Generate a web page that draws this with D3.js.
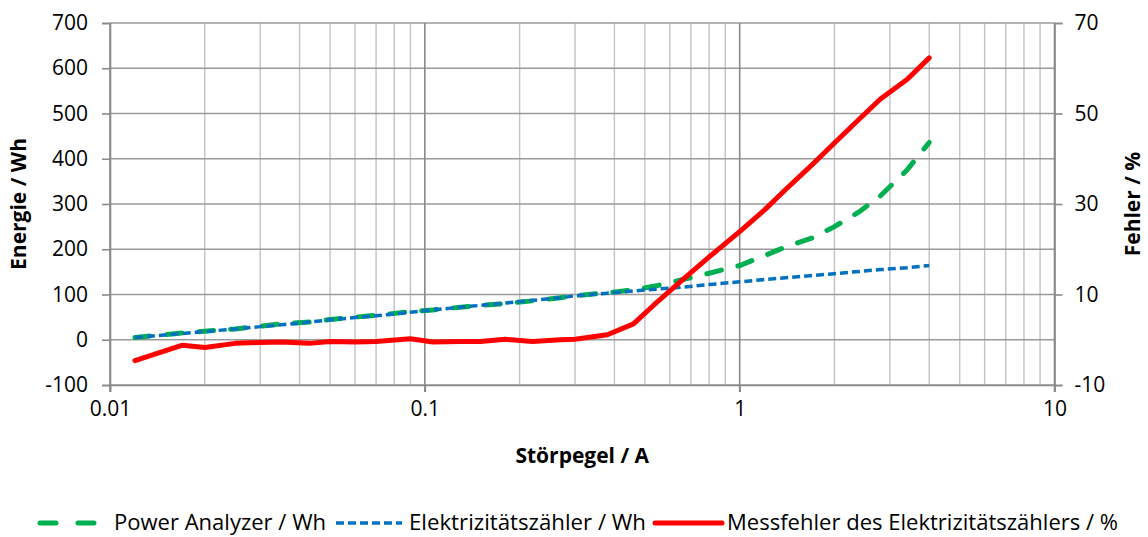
<!DOCTYPE html>
<html><head><meta charset="utf-8">
<script src="https://cdn.jsdelivr.net/npm/d3@7"></script>
<style>
html,body{margin:0;padding:0;background:#fff;}
text{font-family:"Open Sans",sans-serif;fill:#000;}
</style></head>
<body>
<svg id="c" width="1148" height="537"></svg>
<script>
const xValues = [0.012,0.017,0.02,0.025,0.03,0.035,0.043,0.05,0.06,0.07,0.09,0.106,0.13,0.15,0.18,0.22,0.27,0.3,0.38,0.46,0.55,0.65,0.8,1.0,1.2,1.4,1.7,2.0,2.4,2.8,3.4,4.0];
const powerAnalyzer = [5,15,19,24,30,35,39,45,50,54,62,66,72,76,80,86,93,97,104,110,120,132,147,164,186,205,225,250,283,318,375,436];
const elektrizitaetszaehler = [5,14,18,24,29,33,39,44,49,53,61,66,72,76,81,87,93,97,103,108,112,116,122,128,133,137,142,146,151,155,159,164];
const messfehler = [-4.6,-1.2,-1.7,-0.8,-0.6,-0.5,-0.8,-0.4,-0.5,-0.4,0.2,-0.5,-0.4,-0.4,0.1,-0.4,0,0.1,1.1,3.5,8.5,12.9,18.3,23.9,28.7,33.2,38.7,43.5,48.8,53.2,57.5,62.3];
const xTicks = [0.01,0.1,1,10];
const xTickLabels = ["0.01","0.1","1","10"];
const yLeftTicks = [-100,0,100,200,300,400,500,600,700];
const yRightTicks = [-10,10,30,50,70];
const seriesNames = ["Power Analyzer / Wh","Elektrizitätszähler / Wh","Messfehler des Elektrizitätszählers / %"];
const xTitle = "Störpegel / A", yLeftTitle = "Energie / Wh", yRightTitle = "Fehler / %";

const svg = d3.select("#c");
const L=110, R=1054.5, T=23, B=385;
const FS = "21px";
const x = d3.scaleLog().domain([0.01,10]).range([L,R]);
const yL = d3.scaleLinear().domain([-100,700]).range([B,T]);
const yR = d3.scaleLinear().domain([-10,70]).range([B,T]);

const minor=[];
[0.01,0.1,1].forEach(d=>{for(let k=2;k<=9;k++)minor.push(d*k);});
svg.append("g").selectAll("line").data(minor).join("line")
  .attr("x1",d=>x(d)).attr("x2",d=>x(d)).attr("y1",T).attr("y2",B)
  .attr("stroke","#c3c3c3").attr("stroke-width",1.4);
svg.append("g").selectAll("line").data(yLeftTicks).join("line")
  .attr("x1",L).attr("x2",R).attr("y1",d=>yL(d)).attr("y2",d=>yL(d))
  .attr("stroke","#9a9a9a").attr("stroke-width",1.4);
svg.append("g").selectAll("line").data(xTicks).join("line")
  .attr("x1",d=>x(d)).attr("x2",d=>x(d)).attr("y1",T).attr("y2",B+7)
  .attr("stroke","#8a8a8a").attr("stroke-width",1.6);

const fmt = d => String(d);
const axL = d3.axisLeft(yL).tickValues(yLeftTicks).tickFormat(fmt).tickSize(8).tickPadding(14);
const gL = svg.append("g").attr("transform",`translate(${L},0)`).call(axL);
const axR = d3.axisRight(yR).tickValues(yRightTicks).tickFormat(fmt).tickSize(8).tickPadding(12);
const gR = svg.append("g").attr("transform",`translate(${R},0)`).call(axR);
const axB = d3.axisBottom(x).tickValues(xTicks).tickFormat((d,i)=>xTickLabels[i]).tickSize(7).tickPadding(9);
const gB = svg.append("g").attr("transform",`translate(0,${B})`).call(axB);
[gL,gR,gB].forEach(g=>{
  g.selectAll("path").attr("stroke","#8a8a8a").attr("stroke-width",1.6);
  g.selectAll("line").attr("stroke","#8a8a8a").attr("stroke-width",1.6);
  g.selectAll("text").style("font-size",FS).style("font-family","'Open Sans',sans-serif").attr("fill","#000");
});

const lineL = d3.line().x((d,i)=>x(xValues[i])).y(d=>yL(d));
const lineR = d3.line().x((d,i)=>x(xValues[i])).y(d=>yR(d));
svg.append("path").datum(powerAnalyzer).attr("d",lineL).attr("fill","none")
  .attr("stroke","#00B050").attr("stroke-width",5).attr("stroke-linecap","round")
  .attr("stroke-dasharray","15,17");
svg.append("path").datum(elektrizitaetszaehler).attr("d",lineL).attr("fill","none")
  .attr("stroke","#0070C0").attr("stroke-width",3.5).attr("stroke-linecap","butt")
  .attr("stroke-dasharray","8,4");
svg.append("path").datum(messfehler).attr("d",lineR).attr("fill","none")
  .attr("stroke","#FF0000").attr("stroke-width",5).attr("stroke-linejoin","round").attr("stroke-linecap","round");

svg.append("text").attr("x",(L+R)/2).attr("y",463).attr("text-anchor","middle")
  .style("font-size",FS).style("font-weight","bold").text(xTitle);
svg.append("text").attr("transform","translate(26,204) rotate(-90)").attr("text-anchor","middle")
  .style("font-size",FS).style("font-weight","bold").text(yLeftTitle);
svg.append("text").attr("transform","translate(1140,204) rotate(-90)").attr("text-anchor","middle")
  .style("font-size",FS).style("font-weight","bold").text(yRightTitle);

const leg = [
  {x1:40,x2:102,tx:114,tw:212,color:"#00B050",w:5,dash:"16,22",cap:"round"},
  {x1:336,x2:402,tx:409,tw:237,color:"#0070C0",w:3.5,dash:"8,4",cap:"butt"},
  {x1:655,x2:722,tx:727,tw:391,color:"#FF0000",w:5,dash:null,cap:"round"}
];
const lg = svg.append("g");
leg.forEach((d,i)=>{
  lg.append("line").attr("x1",d.x1).attr("x2",d.x2).attr("y1",523).attr("y2",523)
    .attr("stroke",d.color).attr("stroke-width",d.w).attr("stroke-linecap",d.cap)
    .attr("stroke-dasharray",d.dash);
  lg.append("text").attr("x",d.tx).attr("y",523).attr("dy","0.35em")
    .attr("textLength",d.tw).attr("lengthAdjust","spacingAndGlyphs")
    .style("font-size",FS).text(seriesNames[i]);
});
</script>
</body></html>
